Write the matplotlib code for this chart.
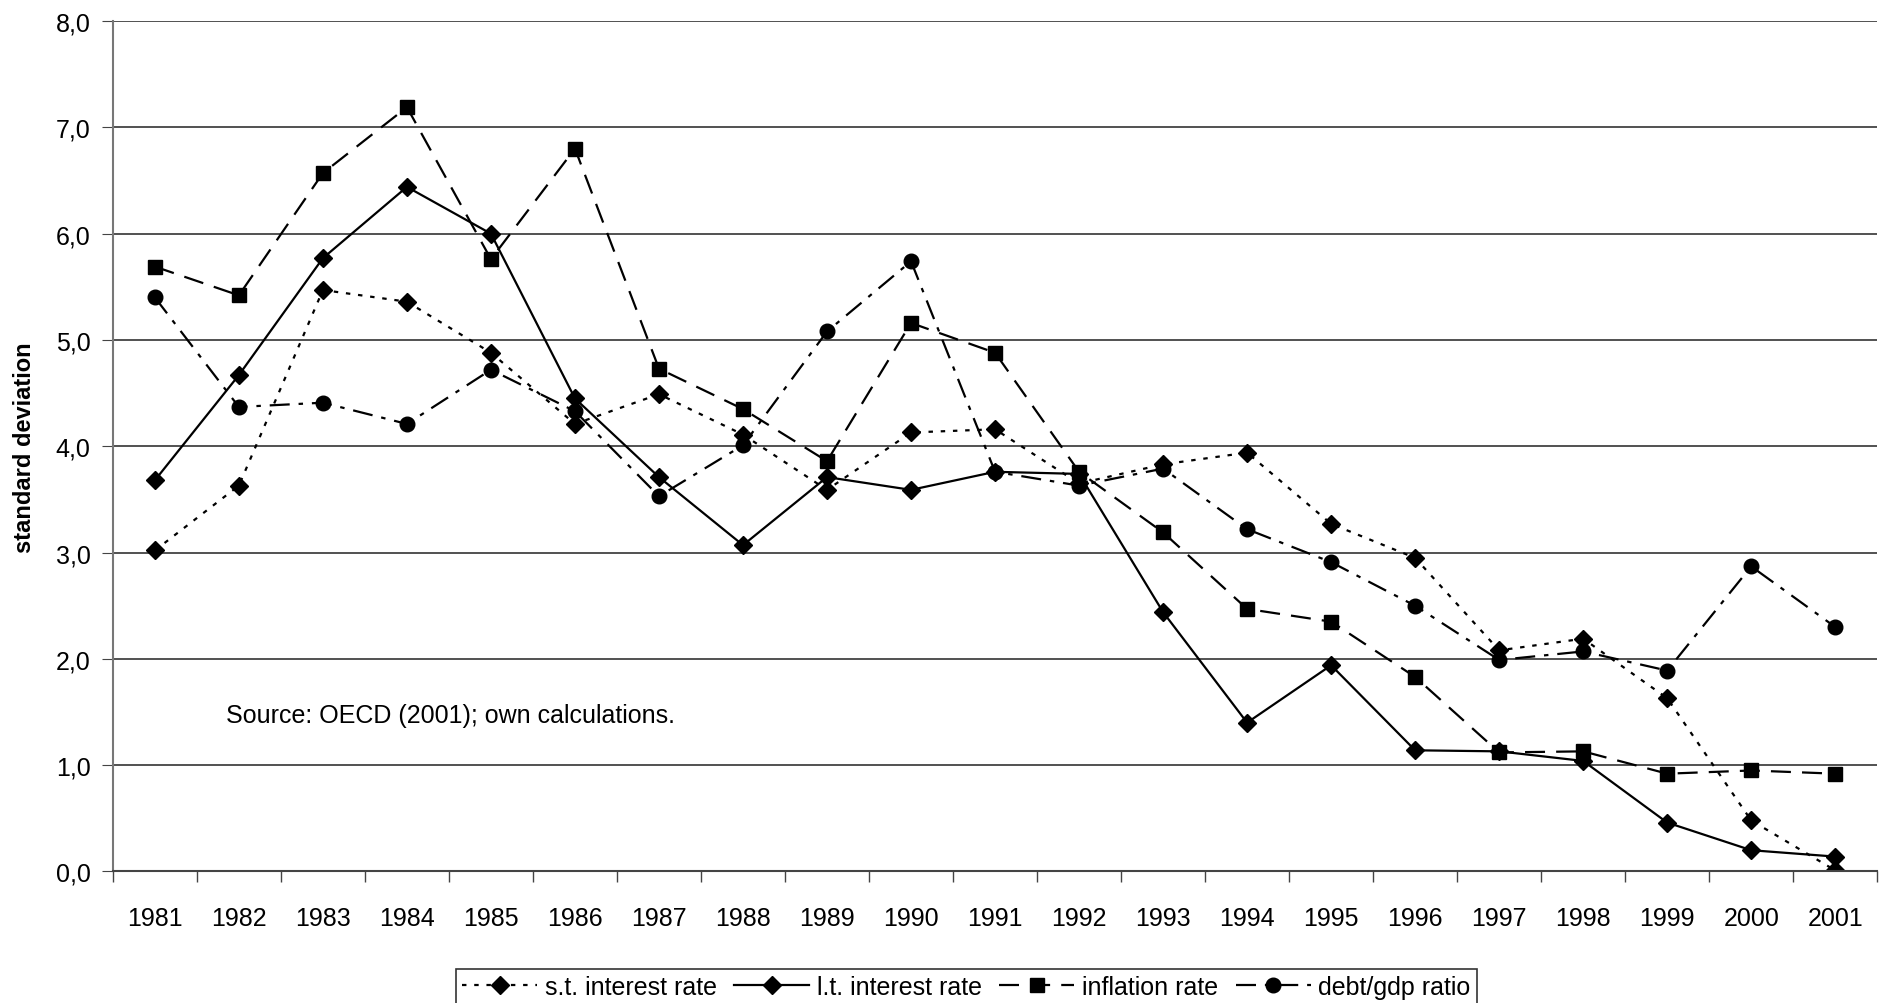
import matplotlib
matplotlib.use("Agg")
import matplotlib.pyplot as plt
from matplotlib.ticker import FuncFormatter

plt.rcParams['font.family'] = ['Liberation Sans', 'DejaVu Sans']

years = [str(y) for y in range(1981, 2002)]

st_rate = [3.02, 3.63, 5.47, 5.36, 4.88, 4.21, 4.49, 4.11, 3.59, 4.13, 4.16,
           3.65, 3.83, 3.94, 3.27, 2.95, 2.08, 2.19, 1.63, 0.48, 0.01]
lt_rate = [3.68, 4.67, 5.77, 6.44, 6.00, 4.45, 3.71, 3.07, 3.71, 3.59, 3.76,
           3.74, 2.44, 1.40, 1.94, 1.14, 1.13, 1.04, 0.46, 0.20, 0.14]
inflation = [5.69, 5.42, 6.57, 7.19, 5.76, 6.80, 4.73, 4.35, 3.86, 5.16, 4.88,
             3.76, 3.19, 2.47, 2.35, 1.83, 1.12, 1.13, 0.92, 0.95, 0.92]
debt_gdp = [5.40, 4.37, 4.41, 4.21, 4.72, 4.33, 3.53, 4.01, 5.08, 5.74, 3.76,
            3.63, 3.79, 3.22, 2.91, 2.50, 1.99, 2.07, 1.89, 2.87, 2.30]

fig = plt.figure(figsize=(18.81, 10.04), dpi=100)
ax = fig.add_axes([0.06, 0.131, 0.938, 0.847])

x = list(range(len(years)))
ax.plot(x, st_rate, color='black', lw=1.6, ls=(0, (2, 3.5)), marker='D', ms=9.5,
        label='s.t. interest rate')
ax.plot(x, lt_rate, color='black', lw=1.6, ls='-', marker='D', ms=9.5,
        label='l.t. interest rate')
ax.plot(x, inflation, color='black', lw=1.6, ls=(0, (9, 5)), marker='s', ms=10.5,
        label='inflation rate')
ax.plot(x, debt_gdp, color='black', lw=1.6, ls=(0, (9, 4, 2, 4)), marker='o', ms=10.5,
        label='debt/gdp ratio')

ax.set_xlim(-0.5, len(years) - 0.5)
ax.set_ylim(0, 8)
ax.set_yticks(range(0, 9))
ax.yaxis.set_major_formatter(FuncFormatter(lambda v, p: f"{v:.1f}".replace('.', ',')))
ax.set_xticks(x)
ax.set_xticklabels(years)
ax.set_xticks([i - 0.5 for i in range(len(years) + 1)], minor=True)
ax.tick_params(axis='x', which='major', length=0, pad=25, labelsize=18)
ax.tick_params(axis='x', which='minor', length=8, color='#444444', width=1)
ax.tick_params(axis='y', length=8, color='#444444', labelsize=18, pad=8)
ax.grid(axis='y', color='#222222', lw=1.1)
ax.set_axisbelow(True)

for s in ['top', 'right']:
    ax.spines[s].set_visible(False)
ax.spines['left'].set_color('#777777')
ax.spines['bottom'].set_color('#444444')
ax.spines['left'].set_linewidth(1.5)
ax.spines['bottom'].set_linewidth(1.5)

ax.set_ylabel('standard deviation', fontsize=17, fontweight='bold', labelpad=14)

ax.text(0.85, 1.47, 'Source: OECD (2001); own calculations.', fontsize=18,
        va='center', ha='left')

leg = fig.legend(loc='lower left', bbox_to_anchor=(0.2425, -0.002), ncol=4,
                 fontsize=18, frameon=True, fancybox=False, edgecolor='black',
                 handlelength=3.0, handletextpad=0.3, columnspacing=0.7,
                 borderpad=0.25, borderaxespad=0)
leg.get_frame().set_linewidth(1.2)

fig.savefig('out.png', dpi=100)
